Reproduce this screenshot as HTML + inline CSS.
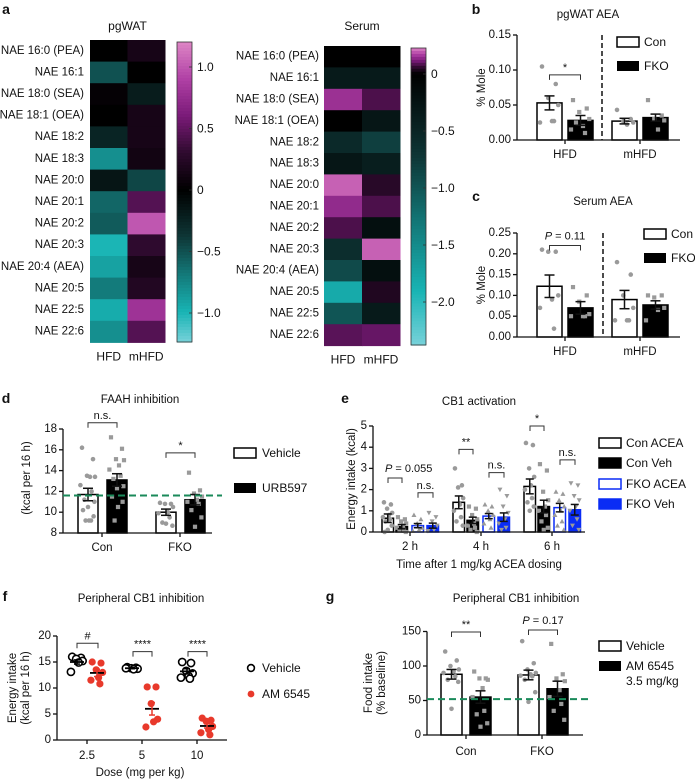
<!DOCTYPE html>
<html><head><meta charset="utf-8">
<style>
html,body{margin:0;padding:0;background:#fff;}
svg text{font-family:"Liberation Sans",Arial,sans-serif;dominant-baseline:central;fill:#111;}
</style></head>
<body>
<svg id="fig" width="695" height="779" viewBox="0 0 695 779" xmlns="http://www.w3.org/2000/svg"></svg>
<script>
// ---------- DATA ----------
const naeLabels=["NAE 16:0 (PEA)","NAE 16:1","NAE 18:0 (SEA)","NAE 18:1 (OEA)","NAE 18:2","NAE 18:3","NAE 20:0","NAE 20:1","NAE 20:2","NAE 20:3","NAE 20:4 (AEA)","NAE 20:5","NAE 22:5","NAE 22:6"];
const pgHFD=[0.0,-0.5,0.03,0.0,-0.25,-0.8,-0.15,-0.6,-0.55,-1.0,-0.9,-0.7,-0.95,-0.8];
const pgMHFD=[0.15,0.0,-0.2,0.15,0.15,0.12,-0.45,0.45,1.0,0.3,0.15,0.22,0.8,0.45];
const seHFD=[0.0,-0.35,0.15,0.0,-0.55,-0.3,0.2,0.14,0.08,-0.6,-0.9,-1.8,-1.0,0.09];
const seMHFD=[0.0,-0.35,0.08,-0.3,-0.8,-0.4,0.05,0.08,-0.2,0.2,-0.2,0.04,-0.35,0.1];
const pgTicks=[1.0,0.5,0,-0.5,-1.0];
const pgTickLabels=["1.0","0.5","0","\u22120.5","\u22121.0"];
const seTicks=[0,-0.5,-1.0,-1.5,-2.0];
const seTickLabels=["0","\u22120.5","\u22121.0","\u22121.5","\u22122.0"];

const bMeans=[0.053,0.028,0.027,0.032];
const bErr=[0.01,0.007,0.004,0.005];
const bPts=[[0.105,0.08,0.06,0.05,0.027,0.025,0.027],[0.057,0.045,0.04,0.03,0.02,0.015,0.01,0.025],[0.043,0.03,0.027,0.025,0.022],[0.057,0.035,0.03,0.028,0.015]];
const bTicks=[0,0.05,0.10,0.15];
const bTickLabels=["0.00","0.05","0.10","0.15"];

const cMeans=[0.122,0.07,0.09,0.077];
const cErr=[0.027,0.015,0.022,0.01];
const cPts=[[0.21,0.205,0.205,0.1,0.09,0.07,0.02],[0.12,0.1,0.085,0.055,0.05,0.05,0.05],[0.18,0.15,0.1,0.07,0.04,0.04,0.04],[0.1,0.1,0.095,0.07,0.065,0.04]];
const cTicks=[0,0.05,0.10,0.15,0.20,0.25];
const cTickLabels=["0.00","0.05","0.10","0.15","0.20","0.25"];

const dMeans=[11.7,13.1,10.0,11.2];
const dErr=[0.6,0.6,0.3,0.5];
const dPts=[[16.2,15.1,13.5,13.4,13.4,12.6,12,11.2,11,10.5,10.2,9.6,9.2,9.2,9.2],[17.2,16.1,15.1,15,14.5,14.1,13.5,13.2,12.5,12.3,11.5,11,10.5,9.2],[10.9,10.8,10.8,10.5,10,9.9,9.5,9,8.7,8.9],[13.8,12.1,11.8,11.5,11.2,11,10.8,10.2,9.5,8.6]];
const dTicks=[8,10,12,14,16,18];
const dBaseline=11.6;

const eTimes=["2 h","4 h","6 h"];
const eMeans=[[0.65,0.25,0.3,0.3],[1.4,0.55,0.75,0.7],[2.15,1.2,1.15,1.05]];
const eErr=[[0.2,0.1,0.1,0.12],[0.3,0.15,0.12,0.2],[0.35,0.3,0.2,0.25]];
const ePts=[
 [[1.4,1.3,1.1,0.9,0.8,0.7,0.6,0.5,0.3,0.1,0.0],[0.7,0.6,0.5,0.4,0.3,0.2,0.1,0.05,0],[0.8,0.6,0.4,0.2,0.1,0.05],[0.9,0.7,0.5,0.3,0.1,0.05]],
 [[3.0,2.2,2.1,1.6,1.3,1.0,0.7,0.5,0.3],[1.2,1.1,0.8,0.6,0.4,0.3,0.2,0.1,0],[1.3,1.2,1.0,0.8,0.6,0.4,0.2],[2.0,1.7,1.2,0.9,0.6,0.4,0.2,0.1]],
 [[4.2,4.1,3.0,2.6,2.2,2.0,1.6,1.4,1.2,1.0],[3.2,2.9,1.9,1.5,1.2,1.0,0.8,0.5,0.2,0.1],[1.9,1.8,1.5,1.2,1.0,0.8,0.5,0.3,0.1],[2.3,2.2,1.7,1.5,1.2,1.0,0.6,0.3,0.1]]];
const eTicks=[0,1,2,3,4,5];

const fDoses=["2.5","5","10"];
const fVehPts=[[16,15.8,15.6,15.2,14.9,13.1],[14,13.9,13.8,13.7,13.6,13.8],[15,14.8,13.3,12.8,12.3,12,11.8]];
const fAMPts=[[15,14.8,13.5,13,12,11.5,10.8],[10.2,10.2,7,4,3.5,2.5],[4.2,3.8,3.6,2.6,2,1.4,1]];
const fVehMean=[15,13.8,13.2];
const fVehErr=[0.4,0.1,0.5];
const fAMMean=[12.9,6,2.7];
const fAMErr=[0.7,1.2,0.4];
const fTicks=[0,5,10,15,20];

const gMeans=[88,55,87,67];
const gErr=[7,9,7,11];
const gPts=[[121,108,100,95,92,90,85,80,77,38],[92,82,82,80,68,55,35,30,17,12],[136,104,95,90,88,86,85,80,62,48],[132,88,82,78,65,55,45,35,22]];
const gTicks=[0,50,100,150];
const gBaseline=52;

// ---------- HELPERS ----------
const NS='http://www.w3.org/2000/svg';
const svg=document.getElementById('fig');
function mk(tag,attrs,parent,name){
  const el=document.createElementNS(NS,tag);
  for(const k in attrs) el.setAttribute(k,attrs[k]);
  
  
  (parent||svg).appendChild(el);
  return el;
}
function txt(x,y,s,parent,name,size,anchor,extra){
  const a={x:x,y:y,'font-size':size||11,'text-anchor':anchor||'middle'};
  if(extra) for(const k in extra) a[k]=extra[k];
  const t=mk('text',a,parent,name);
  t.textContent=s; return t;
}
function line(x1,y1,x2,y2,parent,name,stroke,w,dash){
  const a={x1:x1,y1:y1,x2:x2,y2:y2,stroke:stroke||'#111','stroke-width':w||1.3};
  if(dash) a['stroke-dasharray']=dash;
  return mk('line',a,parent,name);
}
function hexToRgb(h){return [parseInt(h.substr(1,2),16),parseInt(h.substr(3,2),16),parseInt(h.substr(5,2),16)];}
const posStops=[[0,'#000000'],[0.25,'#2e0a2e'],[0.5,'#7a1a78'],[0.75,'#b040a5'],[1,'#dd85c5']];
const negStops=[[0,'#000000'],[0.3,'#0e3535'],[0.55,'#137878'],[0.8,'#18b4b4'],[1,'#78d2da']];
function interp(stops,t){
  t=Math.max(0,Math.min(1,t));
  for(let i=1;i<stops.length;i++){
    if(t<=stops[i][0]){
      const a=hexToRgb(stops[i-1][1]),b=hexToRgb(stops[i][1]);
      const f=(t-stops[i-1][0])/(stops[i][0]-stops[i-1][0]);
      return 'rgb('+a.map((v,j)=>Math.round(v+(b[j]-v)*f)).join(',')+')';
    }
  }
  return stops[stops.length-1][1];
}
function cmap(v,vmin,vmax){return v>=0?interp(posStops,v/vmax):interp(negStops,v/vmin);}
const jit=[-0.3,0.25,-0.05,0.35,0.1,-0.38,0.18,-0.18,0.32,0.0,-0.25,0.28,0.05,-0.12,0.15];
function marker(type,x,y,parent,name){
  const c='#9a9a9a';
  if(type==='circle') return mk('circle',{cx:x,cy:y,r:2.3,fill:c},parent,name);
  if(type==='square') return mk('rect',{x:x-2.1,y:y-2.1,width:4.2,height:4.2,fill:c},parent,name);
  if(type==='up') return mk('polygon',{points:(x-2.5)+','+(y+2)+' '+(x+2.5)+','+(y+2)+' '+x+','+(y-2.5),fill:c},parent,name);
  return mk('polygon',{points:(x-2.5)+','+(y-2)+' '+(x+2.5)+','+(y-2)+' '+x+','+(y+2.5),fill:c},parent,name);
}
function bracket(x1,x2,y,label,parent,italicP,labelX,labelAnchor){
  const p=mk('path',{d:'M'+x1+','+(y+5)+'V'+y+'H'+x2+'V'+(y+5),fill:'none',stroke:'#333','stroke-width':1},parent,'significance-bracket');
  if(italicP){
    const t=mk('text',{x:labelX!==undefined?labelX:(x1+x2)/2,y:y-9,'font-size':11,'text-anchor':labelAnchor||'middle'},parent,'p-value-label');
    const ts=mk('tspan',{'font-style':'italic'},t,'p-symbol'); ts.textContent='P';
    const ts2=mk('tspan',{},t,'p-value'); ts2.textContent=' = '+label;
  } else txt((x1+x2)/2,y-7,label,parent,'significance-label',11);
  return p;
}
function errBar(cx,yTop,yBot,parent,color,hw){
  line(cx,yTop,cx,yBot,parent,'error-bar',color||'#111',1.5);
  line(cx-(hw||5),yTop,cx+(hw||5),yTop,parent,'error-cap',color||'#111',1.5);
  line(cx-(hw||5),yBot,cx+(hw||5),yBot,parent,'error-cap',color||'#111',1.5);
}
function yAxis(x,ys,ticks,labels,parent,top,bottom){
  line(x,top,x,bottom,parent,'y-axis-line');
  ticks.forEach((t,i)=>{
    line(x-4,ys(t),x,ys(t),parent,'y-tick');
    txt(x-6,ys(t),labels[i],parent,'y-tick-label',11.5,'end');
  });
}

// ---------- PANEL A: HEATMAPS ----------
function heatmap(cfg){
  const g=mk('g',{},svg,cfg.name);
  txt(cfg.x0+cfg.cw,cfg.titleY,cfg.title,g,'heatmap-title',12);
  naeLabels.forEach((lab,i)=>{
    const y=cfg.y0+i*cfg.rh;
    txt(cfg.labelX,y+cfg.rh/2,lab,g,'row-label',11.5,'end');
    [cfg.a,cfg.b].forEach((arr,j)=>{
      mk('rect',{x:cfg.x0+j*cfg.cw,y:y,width:cfg.cw+0.5,height:cfg.rh+0.5,fill:cmap(arr[i],cfg.vmin,cfg.vmax)},g,'heatmap-cell');
    });
  });
  txt(cfg.x0+cfg.cw/2,cfg.y0+14*cfg.rh+14,'HFD',g,'column-label-hfd',12);
  txt(cfg.x0+cfg.cw*1.5,cfg.y0+14*cfg.rh+14,'mHFD',g,'column-label-mhfd',12);
  const cb=mk('g',{},g,'colorbar');
  const n=100;
  for(let k=0;k<n;k++){
    const yy=cfg.cbTop+(cfg.cbBot-cfg.cbTop)*k/n;
    const v=cfg.cbV(yy+(cfg.cbBot-cfg.cbTop)/n/2);
    mk('rect',{x:cfg.cbX,y:yy,width:15,height:(cfg.cbBot-cfg.cbTop)/n+0.6,fill:cmap(v,cfg.vmin,cfg.vmax)},cb,'colorbar-step');
  }
  mk('rect',{x:cfg.cbX,y:cfg.cbTop,width:15,height:cfg.cbBot-cfg.cbTop,fill:'none',stroke:'#333','stroke-width':0.8},cb,'colorbar-frame');
  cfg.ticks.forEach((t,i)=>{
    const yy=cfg.cbY(t);
    line(cfg.cbX+12,yy,cfg.cbX+15,yy,cb,'colorbar-tick','#333',0.8);
    txt(cfg.cbX+20,yy,cfg.tickLabels[i],cb,'colorbar-tick-label',12,'start');
  });
}
heatmap({name:'heatmap-pgwat',title:'pgWAT',titleY:26,x0:90,cw:37.5,y0:40,rh:21.6,labelX:84,a:pgHFD,b:pgMHFD,vmin:-1.24,vmax:1.2,
  cbX:177,cbTop:42,cbBot:342,cbY:v=>190-v*123,cbV:y=>(190-y)/123,ticks:pgTicks,tickLabels:pgTickLabels});
heatmap({name:'heatmap-serum',title:'Serum',titleY:26,x0:324,cw:38,y0:46,rh:21.4,labelX:319,a:seHFD,b:seMHFD,vmin:-2.38,vmax:0.23,
  cbX:411,cbTop:48,cbBot:345,cbY:v=>74-v*114,cbV:y=>(74-y)/114,ticks:seTicks,tickLabels:seTickLabels});
txt(6,9,'a',svg,'panel-label-a',14,'middle',{'font-weight':'bold'});

// ---------- PANELS B & C ----------
function panelBC(cfg){
  const g=mk('g',{},svg,cfg.name);
  txt(cfg.letterX,cfg.letterY,cfg.letter,g,'panel-label',14,'middle',{'font-weight':'bold'});
  txt(cfg.titleX,cfg.titleY,cfg.title,g,'panel-title',11.5);
  const ys=cfg.ys;
  const barX=[537,568,612,643], bw=25;
  cfg.means.forEach((m,i)=>{
    const black=(i%2===1);
    mk('rect',{x:barX[i],y:ys(m),width:bw,height:ys(0)-ys(m),fill:black?'#000':'#fff',stroke:'#000','stroke-width':1.5},g,black?'bar-fko':'bar-con');
    cfg.pts[i].forEach((v,k)=>{
      marker(black?'square':'circle',barX[i]+bw/2+jit[k]*bw,ys(v),g,'data-point');
    });
    errBar(barX[i]+bw/2,ys(m+cfg.err[i]),ys(m-cfg.err[i]),g,'#111',5);
  });
  yAxis(517,ys,cfg.ticks,cfg.tickLabels,g,ys(cfg.ticks[cfg.ticks.length-1]),ys(0));
  line(517,ys(0),680,ys(0),g,'x-axis-line');
  line(565,ys(0),565,ys(0)+4,g,'x-tick');
  line(640,ys(0),640,ys(0)+4,g,'x-tick');
  txt(565,ys(0)+15,'HFD',g,'x-tick-label-hfd',11.5);
  txt(640,ys(0)+15,'mHFD',g,'x-tick-label-mhfd',11.5);
  line(cfg.dashX,ys(cfg.ticks[cfg.ticks.length-1]),cfg.dashX,ys(0),g,'group-divider','#111',1.5,'5,3');
  const my=(ys(0)+ys(cfg.ticks[cfg.ticks.length-1]))/2;
  txt(482,my,'% Mole',g,'y-axis-title',11.5,'middle',{transform:'rotate(-90 482 '+my+')'});
  bracket(549.5,580.5,ys(cfg.brV),cfg.brLabel,g,cfg.brP);
  mk('rect',{x:cfg.legX,y:cfg.legY,width:22,height:10,fill:'#fff',stroke:'#000','stroke-width':1.5},g,'legend-swatch-con');
  txt(cfg.legX+27,cfg.legY+5,'Con',g,'legend-label-con',12,'start');
  mk('rect',{x:cfg.legX,y:cfg.legY+24,width:22,height:10,fill:'#000'},g,'legend-swatch-fko');
  txt(cfg.legX+27,cfg.legY+29,'FKO',g,'legend-label-fko',12,'start');
}
panelBC({name:'panel-b-pgwat-aea',letter:'b',letterX:476,letterY:9,title:'pgWAT AEA',titleX:588,titleY:15,ys:v=>140-v*700,
  means:bMeans,err:bErr,pts:bPts,ticks:bTicks,tickLabels:bTickLabels,dashX:602,brV:0.093,brLabel:'*',brP:false,legX:617,legY:37});
panelBC({name:'panel-c-serum-aea',letter:'c',letterX:476,letterY:196,title:'Serum AEA',titleX:603,titleY:202,ys:v=>337-v*416,
  means:cMeans,err:cErr,pts:cPts,ticks:cTicks,tickLabels:cTickLabels,dashX:603,brV:0.22,brLabel:'0.11',brP:true,legX:644,legY:229});

// ---------- PANEL D ----------
(function(){
  const g=mk('g',{},svg,'panel-d-faah-inhibition');
  txt(6,398,'d',g,'panel-label',14,'middle',{'font-weight':'bold'});
  txt(140,400,'FAAH inhibition',g,'panel-title',11.5);
  const ys=v=>533-(v-8)*10.4;
  const barX=[78,107,156,185], bw=20;
  dMeans.forEach((m,i)=>{
    const black=(i%2===1);
    mk('rect',{x:barX[i],y:ys(m),width:bw,height:ys(8)-ys(m),fill:black?'#000':'#fff',stroke:'#000','stroke-width':1.5},g,black?'bar-urb597':'bar-vehicle');
    dPts[i].forEach((v,k)=>{ marker(black?'square':'circle',barX[i]+bw/2+jit[k]*bw,ys(v),g,'data-point'); });
    errBar(barX[i]+bw/2,ys(m+dErr[i]),ys(m-dErr[i]),g,'#111',5);
  });
  yAxis(63,ys,dTicks,dTicks.map(String),g,ys(18),ys(8));
  line(63,ys(8),212,ys(8),g,'x-axis-line');
  line(102,ys(8),102,ys(8)+4,g,'x-tick');
  line(180,ys(8),180,ys(8)+4,g,'x-tick');
  txt(102,548,'Con',g,'x-tick-label-con',11.5);
  txt(180,548,'FKO',g,'x-tick-label-fko',11.5);
  line(63,ys(dBaseline),222,ys(dBaseline),g,'baseline-reference-line','#1a8a5a',2,'7,4');
  txt(27,478,'(kcal per 16 h)',g,'y-axis-title',11.5,'middle',{transform:'rotate(-90 27 478)'});
  bracket(88,117,ys(18.6),'n.s.',g,false);
  bracket(166,195,ys(15.7),'*',g,false);
  mk('rect',{x:234,y:448,width:22,height:10,fill:'#fff',stroke:'#000','stroke-width':1.5},g,'legend-swatch-vehicle');
  txt(262,453,'Vehicle',g,'legend-label-vehicle',12,'start');
  mk('rect',{x:234,y:483,width:22,height:10,fill:'#000'},g,'legend-swatch-urb597');
  txt(262,488,'URB597',g,'legend-label-urb597',12,'start');
})();

// ---------- PANEL E ----------
(function(){
  const g=mk('g',{},svg,'panel-e-cb1-activation');
  txt(345,398,'e',g,'panel-label',14,'middle',{'font-weight':'bold'});
  txt(479,402,'CB1 activation',g,'panel-title',11.5);
  const ys=v=>532-v*21.2;
  const tickX=[410,481,552];
  const offs=[-28,-14,2,17], bw=11.5;
  const fills=['#fff','#000','#fff','#0a2cf5'];
  const strokes=['#000','#000','#0a2cf5','#0a2cf5'];
  const marks=['circle','square','up','down'];
  const names=['bar-con-acea','bar-con-veh','bar-fko-acea','bar-fko-veh'];
  eMeans.forEach((grp,t)=>{
    grp.forEach((m,i)=>{
      const x=tickX[t]+offs[i];
      mk('rect',{x:x,y:ys(m),width:bw,height:ys(0)-ys(m),fill:fills[i],stroke:strokes[i],'stroke-width':1.5},g,names[i]);
      ePts[t][i].forEach((v,k)=>{ marker(marks[i],x+bw/2+jit[k]*bw*1.1,ys(v),g,'data-point'); });
      errBar(x+bw/2,ys(m+eErr[t][i]),ys(Math.max(0,m-eErr[t][i])),g,'#111',4);
    });
  });
  yAxis(373,ys,eTicks,eTicks.map(String),g,ys(5),ys(0));
  line(373,ys(0),585,ys(0),g,'x-axis-line');
  tickX.forEach((x,i)=>{ line(x,ys(0),x,ys(0)+4,g,'x-tick'); txt(x,547,eTimes[i],g,'x-tick-label',11.5); });
  txt(479,565,'Time after 1 mg/kg ACEA dosing',g,'x-axis-title',11.5);
  txt(352,479,'Energy intake (kcal)',g,'y-axis-title',11.5,'middle',{transform:'rotate(-90 352 479)'});
  bracket(tickX[0]-22,tickX[0]-8,ys(2.55),'0.055',g,true,385,'start');
  bracket(tickX[0]+8,tickX[0]+23,ys(1.85),'n.s.',g,false);
  bracket(tickX[1]-22,tickX[1]-8,ys(3.9),'**',g,false);
  bracket(tickX[1]+8,tickX[1]+23,ys(2.8),'n.s.',g,false);
  bracket(tickX[2]-22,tickX[2]-8,ys(5.0),'*',g,false);
  bracket(tickX[2]+8,tickX[2]+23,ys(3.4),'n.s.',g,false);
  const legT=['Con ACEA','Con Veh','FKO ACEA','FKO Veh'];
  const legY=[443,463,484,504];
  legT.forEach((s,i)=>{
    mk('rect',{x:599,y:legY[i]-5,width:22,height:10,fill:fills[i],stroke:strokes[i],'stroke-width':1.5},g,'legend-swatch');
    txt(626,legY[i],s,g,'legend-label',12,'start');
  });
})();

// ---------- PANEL F ----------
(function(){
  const g=mk('g',{},svg,'panel-f-peripheral-cb1-inhibition');
  txt(5,596,'f',g,'panel-label',14,'middle',{'font-weight':'bold'});
  txt(141,599,'Peripheral CB1 inhibition',g,'panel-title',11.5);
  const ys=v=>740-v*5.2;
  const tickX=[87,142,197];
  fDoses.forEach((d,i)=>{
    const vx=tickX[i]-10, ax=tickX[i]+10;
    fVehPts[i].forEach((v,k)=>{ mk('circle',{cx:vx+jit[k]*16,cy:ys(v),r:3.6,fill:'#fff',stroke:'#000','stroke-width':1.6},g,'vehicle-point'); });
    fAMPts[i].forEach((v,k)=>{ mk('circle',{cx:ax+jit[k]*16,cy:ys(v),r:3.6,fill:'#e8392b'},g,'am6545-point'); });
    line(vx-7,ys(fVehMean[i]),vx+7,ys(fVehMean[i]),g,'vehicle-mean','#000',1.8);
    errBar(vx,ys(fVehMean[i]+fVehErr[i]),ys(fVehMean[i]-fVehErr[i]),g,'#000',3);
    line(ax-7,ys(fAMMean[i]),ax+7,ys(fAMMean[i]),g,'am6545-mean','#000',1.8);
    errBar(ax,ys(fAMMean[i]+fAMErr[i]),ys(fAMMean[i]-fAMErr[i]),g,'#e8392b',3);
  });
  yAxis(57,ys,fTicks,fTicks.map(String),g,ys(20),ys(0));
  line(57,ys(0),227,ys(0),g,'x-axis-line');
  tickX.forEach((x,i)=>{ line(x,ys(0),x,ys(0)+4,g,'x-tick'); txt(x,756,fDoses[i],g,'x-tick-label',11.5); });
  txt(140,773,'Dose (mg per kg)',g,'x-axis-title',11.5);
  txt(13,688,'Energy intake',g,'y-axis-title',11.5,'middle',{transform:'rotate(-90 13 688)'});
  txt(26,688,'(kcal per 16 h)',g,'y-axis-title-units',11.5,'middle',{transform:'rotate(-90 26 688)'});
  bracket(77,98,ys(18.6),'#',g,false);
  bracket(133,152,ys(17),'****',g,false);
  bracket(188,207,ys(17),'****',g,false);
  mk('circle',{cx:251,cy:668,r:3.4,fill:'#fff',stroke:'#000','stroke-width':1.6},g,'legend-marker-vehicle');
  txt(262,668,'Vehicle',g,'legend-label-vehicle',12,'start');
  mk('circle',{cx:251,cy:694,r:3.4,fill:'#e8392b'},g,'legend-marker-am6545');
  txt(262,694,'AM 6545',g,'legend-label-am6545',12,'start');
})();

// ---------- PANEL G ----------
(function(){
  const g=mk('g',{},svg,'panel-g-peripheral-cb1-inhibition');
  txt(330,596,'g',g,'panel-label',14,'middle',{'font-weight':'bold'});
  txt(516,599,'Peripheral CB1 inhibition',g,'panel-title',11.5);
  const ys=v=>735-v*0.69;
  const barX=[441,470,518,547], bw=21;
  gMeans.forEach((m,i)=>{
    const black=(i%2===1);
    mk('rect',{x:barX[i],y:ys(m),width:bw,height:ys(0)-ys(m),fill:black?'#000':'#fff',stroke:'#000','stroke-width':1.5},g,black?'bar-am6545':'bar-vehicle');
    gPts[i].forEach((v,k)=>{ marker(black?'square':'circle',barX[i]+bw/2+jit[k]*bw,ys(v),g,'data-point'); });
    errBar(barX[i]+bw/2,ys(m+gErr[i]),ys(m-gErr[i]),g,'#111',5);
  });
  yAxis(427,ys,gTicks,gTicks.map(String),g,ys(150),ys(0));
  line(427,ys(0),583,ys(0),g,'x-axis-line');
  line(466,ys(0),466,ys(0)+4,g,'x-tick');
  line(542,ys(0),542,ys(0)+4,g,'x-tick');
  txt(466,752,'Con',g,'x-tick-label-con',11.5);
  txt(542,752,'FKO',g,'x-tick-label-fko',11.5);
  line(427,ys(gBaseline),592,ys(gBaseline),g,'baseline-reference-line','#1a8a5a',2,'7,4');
  txt(369,683,'Food intake',g,'y-axis-title',11.5,'middle',{transform:'rotate(-90 369 683)'});
  txt(382,683,'(% baseline)',g,'y-axis-title-units',11.5,'middle',{transform:'rotate(-90 382 683)'});
  bracket(451.5,480.5,632,'**',g,false);
  bracket(528.5,557.5,630,'0.17',g,true);
  mk('rect',{x:599,y:641,width:22,height:10,fill:'#fff',stroke:'#000','stroke-width':1.5},g,'legend-swatch-vehicle');
  txt(626,646,'Vehicle',g,'legend-label-vehicle',12,'start');
  mk('rect',{x:599,y:661,width:22,height:10,fill:'#000'},g,'legend-swatch-am6545');
  txt(626,666,'AM 6545',g,'legend-label-am6545',12,'start');
  txt(626,681,'3.5 mg/kg',g,'legend-label-dose',12,'start');
})();
</script>
</body></html>
